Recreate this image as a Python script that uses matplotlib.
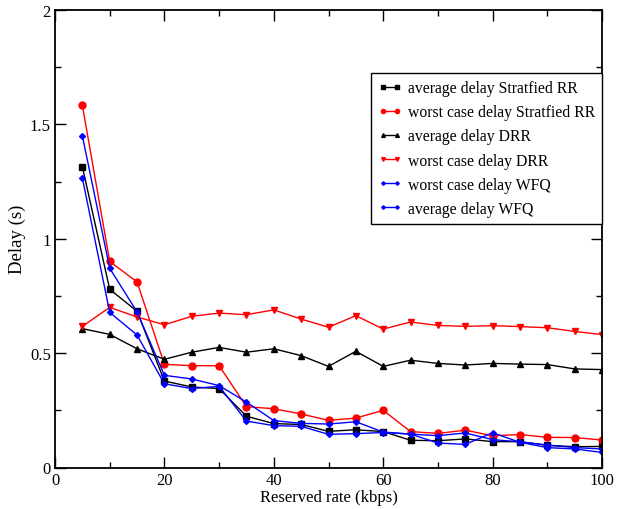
import matplotlib
matplotlib.use("Agg")
import matplotlib.pyplot as plt
from matplotlib.ticker import MultipleLocator

plt.rcParams['font.family'] = ['Liberation Serif', 'DejaVu Serif']
plt.rcParams['mathtext.fontset'] = 'stix'

rate = [5, 10, 15, 20, 25, 30, 35, 40, 45, 50, 55, 60, 65, 70, 75, 80, 85, 90, 95, 100]

avg_srr = [1.315, 0.779, 0.683, 0.378, 0.352, 0.345, 0.224, 0.192, 0.188, 0.158,
           0.165, 0.157, 0.119, 0.117, 0.125, 0.113, 0.113, 0.097, 0.091, 0.092]
worst_srr = [1.583, 0.901, 0.811, 0.451, 0.445, 0.445, 0.266, 0.257, 0.234, 0.206,
             0.216, 0.250, 0.157, 0.149, 0.163, 0.139, 0.144, 0.132, 0.131, 0.120]
avg_drr = [0.607, 0.582, 0.519, 0.473, 0.504, 0.525, 0.504, 0.519, 0.489, 0.442,
           0.508, 0.442, 0.469, 0.455, 0.448, 0.455, 0.452, 0.450, 0.431, 0.428]
worst_drr = [0.617, 0.700, 0.658, 0.624, 0.661, 0.675, 0.668, 0.689, 0.649, 0.613,
             0.664, 0.605, 0.636, 0.621, 0.617, 0.620, 0.616, 0.611, 0.595, 0.581]
worst_wfq = [1.450, 0.871, 0.680, 0.403, 0.387, 0.358, 0.286, 0.205, 0.193, 0.190,
             0.200, 0.155, 0.146, 0.139, 0.151, 0.122, 0.112, 0.098, 0.087, 0.081]
avg_wfq = [1.266, 0.678, 0.579, 0.366, 0.345, 0.355, 0.203, 0.183, 0.180, 0.145,
           0.148, 0.153, 0.146, 0.107, 0.101, 0.152, 0.110, 0.087, 0.081, 0.066]

labels = ["average delay Stratfied RR", "worst case delay Stratfied RR",
          "average delay DRR", "worst case delay DRR",
          "worst case delay WFQ", "average delay WFQ"]

fig = plt.figure(figsize=(6.18, 5.10), dpi=100)
ax = fig.add_axes([55/618, 1 - 468.5/510, (602-55)/618, (468.5-11)/510])

lw = 1.0
ax.plot(rate, avg_srr, color='black', marker='s', markersize=4, lw=lw, label=labels[0])
ax.plot(rate, worst_srr, color='red', marker='o', markersize=5, lw=lw, label=labels[1])
ax.plot(rate, avg_drr, color='black', marker='^', markersize=4.5, lw=lw, label=labels[2])
ax.plot(rate, worst_drr, color='red', marker='v', markersize=4.5, lw=lw, label=labels[3])
ax.plot(rate, worst_wfq, color='blue', marker='D', markersize=3, lw=lw, label=labels[4])
ax.plot(rate, avg_wfq, color='blue', marker='D', markersize=3, lw=lw, label=labels[5])

ax.set_xlim(0, 100)
ax.set_ylim(0, 2)
ax.xaxis.set_major_locator(MultipleLocator(20))
ax.xaxis.set_minor_locator(MultipleLocator(10))
ax.yaxis.set_minor_locator(MultipleLocator(0.25))
ax.set_yticks([0, 0.5, 1, 1.5, 2])
ax.set_yticklabels(['0', '0.5', '1', '1.5', '2'])
ax.tick_params(which='both', direction='in', top=True, right=True, width=1)
ax.tick_params(which='major', length=8, labelsize=12, pad=3)
ax.tick_params(which='minor', length=4)
for s in ax.spines.values():
    s.set_linewidth(1.3)

ax.set_xlabel("Reserved rate (kbps)", fontsize=12, labelpad=1)
ax.set_ylabel("Delay (s)", fontsize=13.5, labelpad=3)

leg = ax.legend(loc='upper right', bbox_to_anchor=(1.0, 1 - (74-11)/457.5), fontsize=11.3,
                frameon=True, fancybox=False, edgecolor='black', framealpha=1,
                numpoints=2, markerscale=0.6,
                handlelength=1.5, handletextpad=0.4, labelspacing=0.52, borderpad=0.45,
                borderaxespad=0)
leg.get_frame().set_linewidth(1.0)

fig.savefig("out.png", dpi=100)
